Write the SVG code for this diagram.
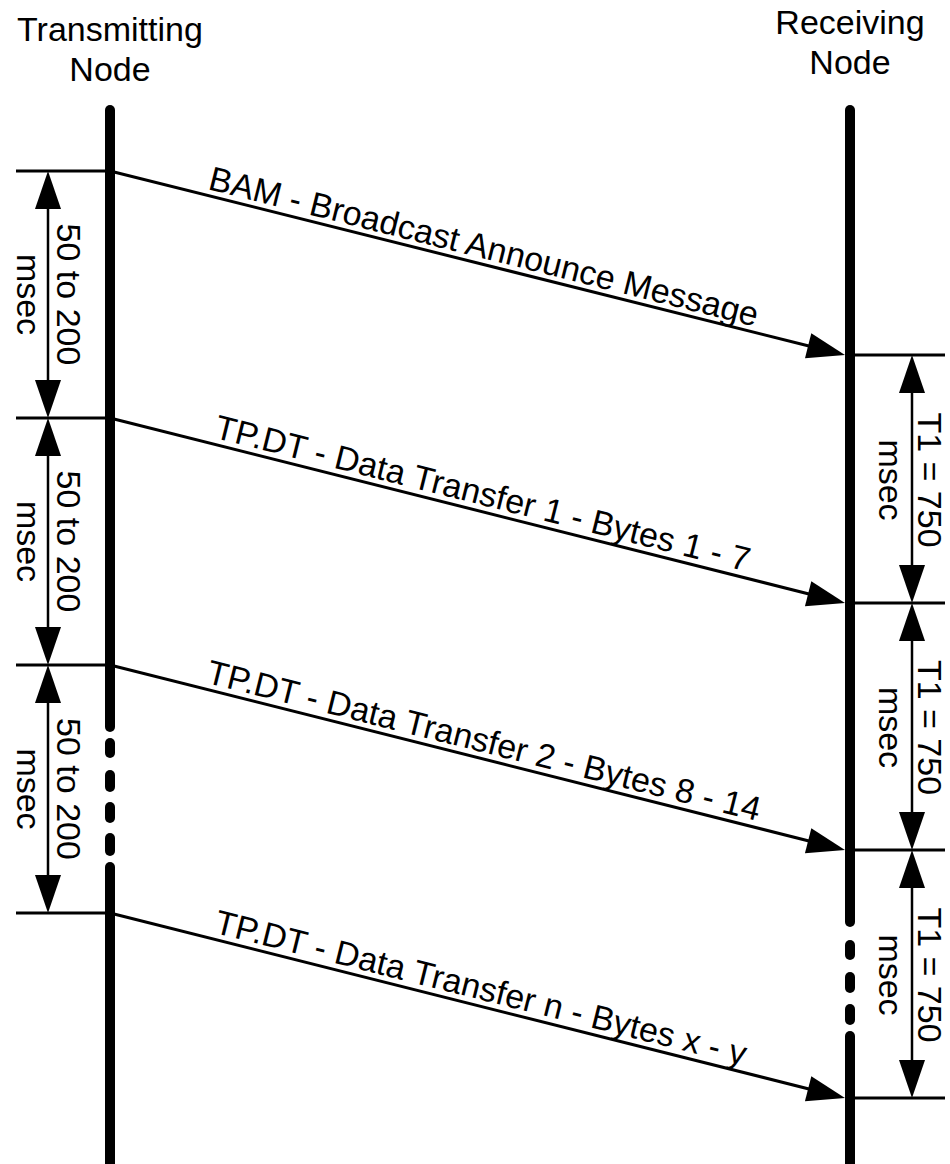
<svg xmlns="http://www.w3.org/2000/svg" width="950" height="1164" viewBox="0 0 950 1164">
<style>
text{font-family:"Liberation Sans",Arial,sans-serif;font-size:34px;fill:#000}
.life{stroke:#000;stroke-width:10;stroke-linecap:round;fill:none}
.tick{stroke:#000;stroke-width:3;fill:none}
.msg{stroke:#000;stroke-width:3;fill:none;marker-end:url(#ah)}
.dim{stroke:#000;stroke-width:2.5;fill:none;marker-start:url(#ah);marker-end:url(#ah)}
.mid{text-anchor:middle}
</style>
<defs>
<marker id="ah" markerUnits="userSpaceOnUse" markerWidth="40" markerHeight="30" refX="8" refY="0" orient="auto-start-reverse" overflow="visible">
<path d="M0,-13 L38,0 L0,13 Z" fill="#000"/>
</marker>
</defs>
<g id="transmitting-node">
<text class="mid" x="110" y="41">Transmitting</text>
<text class="mid" x="110" y="81">Node</text>
<line class="life" x1="110" y1="110" x2="110" y2="727"/>
<line class="life" x1="110" y1="743" x2="110" y2="753"/>
<line class="life" x1="110" y1="775" x2="110" y2="787"/>
<line class="life" x1="110" y1="807" x2="110" y2="818"/>
<line class="life" x1="110" y1="838" x2="110" y2="851"/>
<line class="life" x1="110" y1="867" x2="110" y2="1166"/>
</g>
<g id="receiving-node">
<text class="mid" x="850" y="34">Receiving</text>
<text class="mid" x="850" y="74">Node</text>
<line class="life" x1="850" y1="110" x2="850" y2="922"/>
<line class="life" x1="850" y1="945" x2="850" y2="955"/>
<line class="life" x1="850" y1="977" x2="850" y2="988"/>
<line class="life" x1="850" y1="1009" x2="850" y2="1020"/>
<line class="life" x1="850" y1="1036" x2="850" y2="1166"/>
</g>
<g id="timing-left">
<line class="tick" x1="16" y1="171" x2="110" y2="171"/>
<line class="tick" x1="16" y1="418" x2="110" y2="418"/>
<line class="tick" x1="16" y1="665" x2="110" y2="665"/>
<line class="tick" x1="16" y1="913" x2="110" y2="913"/>
<line class="dim" x1="48" y1="201" x2="48" y2="388"/>
<line class="dim" x1="48" y1="448" x2="48" y2="635"/>
<line class="dim" x1="48" y1="695" x2="48" y2="883"/>
<text class="mid" transform="translate(57,294.5) rotate(90)">50 to 200</text>
<text class="mid" transform="translate(16.5,294.5) rotate(90)">msec</text>
<text class="mid" transform="translate(57,541.5) rotate(90)">50 to 200</text>
<text class="mid" transform="translate(16.5,541.5) rotate(90)">msec</text>
<text class="mid" transform="translate(57,789) rotate(90)">50 to 200</text>
<text class="mid" transform="translate(16.5,789) rotate(90)">msec</text>
</g>
<g id="timing-right">
<line class="tick" x1="850" y1="355" x2="945" y2="355"/>
<line class="tick" x1="850" y1="603" x2="945" y2="603"/>
<line class="tick" x1="850" y1="850" x2="945" y2="850"/>
<line class="tick" x1="850" y1="1098" x2="945" y2="1098"/>
<line class="dim" x1="912" y1="385" x2="912" y2="573"/>
<line class="dim" x1="912" y1="633" x2="912" y2="820"/>
<line class="dim" x1="912" y1="880" x2="912" y2="1068"/>
<text class="mid" transform="translate(918,480) rotate(90)">T1 = 750</text>
<text class="mid" transform="translate(879,480) rotate(90)">msec</text>
<text class="mid" transform="translate(918,727.5) rotate(90)">T1 = 750</text>
<text class="mid" transform="translate(879,727.5) rotate(90)">msec</text>
<text class="mid" transform="translate(918,975) rotate(90)">T1 = 750</text>
<text class="mid" transform="translate(879,975) rotate(90)">msec</text>
</g>
<g id="connectors">
<line class="msg" x1="110" y1="171" x2="815.9" y2="347.7"/>
<line class="msg" x1="110" y1="418" x2="815.9" y2="595.7"/>
<line class="msg" x1="110" y1="665" x2="815.9" y2="842.7"/>
<line class="msg" x1="110" y1="913" x2="815.9" y2="1090.7"/>
<text transform="translate(207,189) rotate(14.1)">BAM - Broadcast Announce Message</text>
<text transform="translate(213,437.5) rotate(14.1)">TP.DT - Data Transfer 1 - Bytes 1 - 7</text>
<text transform="translate(205,682.5) rotate(14.1)">TP.DT - Data Transfer 2 - Bytes 8 - 14</text>
<text transform="translate(213,932.5) rotate(14.1)">TP.DT - Data Transfer n - Bytes x - y</text>
</g>
</svg>
